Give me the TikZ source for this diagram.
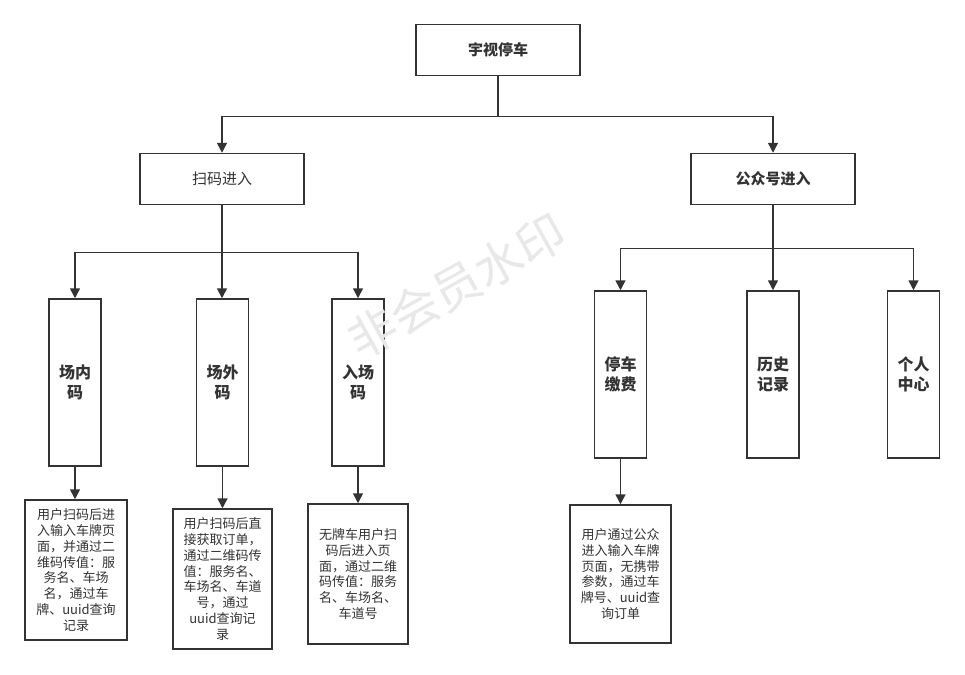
\documentclass[tikz,border=0pt]{standalone}
\usepackage{fontspec}
\setmainfont{Noto Sans CJK SC}
\usetikzlibrary{arrows.meta}
\definecolor{ln}{HTML}{333333}
\definecolor{wmc}{HTML}{E8E8E8}
\begin{document}
\begin{tikzpicture}[x=1pt,y=-1pt,
  box/.style={draw=ln,line width=1.5pt,fill=white,inner sep=2pt,align=center,text=ln},
  topbox/.style={box,minimum width=164pt,minimum height=51pt,font=\fontsize{15}{18}\selectfont},
  tallbox/.style={box,minimum width=52pt,minimum height=167pt,font=\fontsize{16}{20}\selectfont\bfseries},
  descbox/.style={box,minimum width=100pt,minimum height=140pt,font=\fontsize{13}{15.8}\selectfont},
  arr/.style={draw=ln,line width=1.5pt,-{Triangle[length=10pt,width=10pt]}}]
\useasboundingbox[fill=white] (0,0) rectangle (965,674);
% top
\node[topbox,font=\fontsize{15}{18}\selectfont\bfseries] (root) at (498,50) {宇视停车};
\node[topbox] (sm) at (222,179) {扫码进入};
\node[topbox,font=\fontsize{15}{18}\selectfont\bfseries] (gzh) at (773,179) {公众号进入};
% second level
\node[tallbox] (cn) at (75,382.5) {场内\\码};
\node[tallbox] (cw) at (222.5,382.5) {场外\\码};
\node[tallbox] (rc) at (358,382.5) {入场\\码};
\node[tallbox] (tc) at (620.5,374.5) {停车\\缴费};
\node[tallbox] (ls) at (773,374.5) {历史\\记录};
\node[tallbox] (gr) at (913.5,374.5) {个人\\中心};
% descriptions
\node[descbox,minimum width=102pt] (d1) at (76,570) {用户扫码后进\\入输入车牌页\\面，并通过二\\维码传值：服\\务名、车场\\名，通过车\\牌、uuid查询\\记录};
\node[descbox,minimum width=99pt] (d2) at (222.5,579) {用户扫码后直\\接获取订单，\\通过二维码传\\值：服务名、\\车场名、车道\\号，通过\\uuid查询记\\录};
\node[descbox] (d3) at (358,574) {无牌车用户扫\\码后进入页\\面，通过二维\\码传值：服务\\名、车场名、\\车道号};
\node[descbox,minimum width=101pt,minimum height=138pt] (d4) at (620.5,574) {用户通过公众\\进入输入车牌\\页面，无携带\\参数，通过车\\牌号、uuid查\\询订单};
% connectors
\draw[arr] (root.south) -- ++(0,40) -| (sm.north);
\draw[arr] (root.south) -- ++(0,40) -| (gzh.north);
\draw[arr] (sm.south) -- ++(0,47) -| (cn.north);
\draw[arr] (sm.south) -- (sm.south |- cw.north);
\draw[arr] (sm.south) -- ++(0,47) -| (rc.north);
\draw[arr] (gzh.south) -- ++(0,43) -| (tc.north);
\draw[arr] (gzh.south) -- (ls.north);
\draw[arr] (gzh.south) -- ++(0,43) -| (gr.north);
\draw[arr] (cn.south) -- (cn.south |- d1.north);
\draw[arr] (cw.south) -- (cw.south |- d2.north);
\draw[arr] (rc.south) -- (rc.south |- d3.north);
\draw[arr] (tc.south) -- (tc.south |- d4.north);
% watermark
\node[rotate=29,text=wmc,font=\fontsize{48}{48}\selectfont] (wm) at (457,286) {非会员水印};
\end{tikzpicture}
\end{document}
